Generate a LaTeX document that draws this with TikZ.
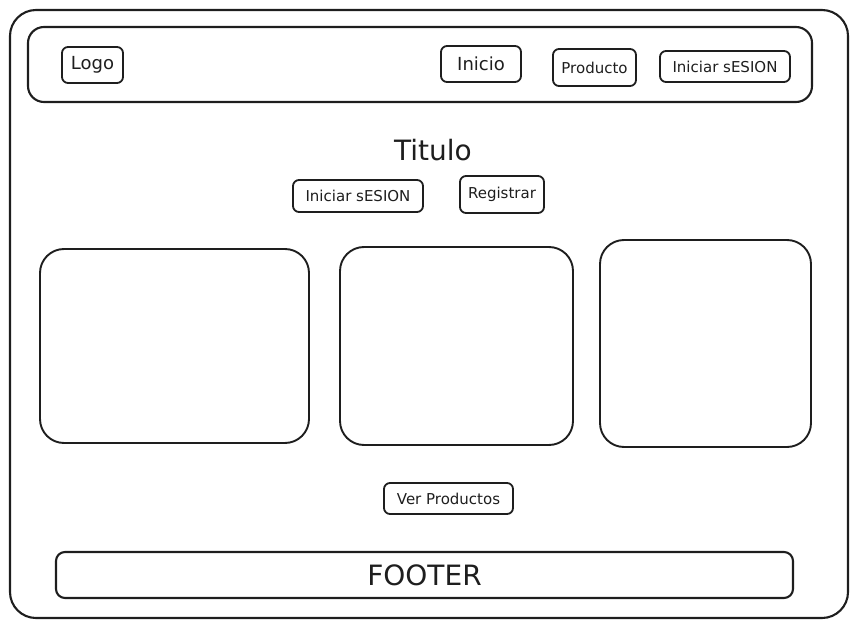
\documentclass[tikz,border=0pt]{standalone}
\usepackage{fontspec}
\setmainfont{DejaVu Sans}
\definecolor{ink}{HTML}{1E1E1E}
\tikzset{
  box/.style={draw=ink, text=ink, line width=1.8pt, rounded corners=6pt, inner sep=0pt},
  card/.style={box, rounded corners=24pt, line width=1.9pt},
  lbl/.style={text=ink, inner sep=0pt}
}
\begin{document}
\begin{tikzpicture}[x=1pt,y=-1pt]
\useasboundingbox (0,0) rectangle (858,628);
\node[box, rounded corners=26pt, line width=2.1pt, minimum width=838pt, minimum height=608pt] (frame) at (429,314) {};
\node[box, rounded corners=16pt, line width=2.1pt, minimum width=784pt, minimum height=75pt] (header) at (420,64.5) {};
\node[box, minimum width=61pt, minimum height=36pt, font=\fontsize{18}{20}\selectfont] (logo) at (92.5,65) {Logo};
\node[box, minimum width=80pt, minimum height=36pt, font=\fontsize{18}{20}\selectfont] (inicio) at (481,64) {Inicio};
\node[box, minimum width=83pt, minimum height=37pt, font=\fontsize{15}{17}\selectfont] (producto) at (594.5,67.5) {Producto};
\node[box, minimum width=130pt, minimum height=31pt, font=\fontsize{15}{17}\selectfont] (sesionTop) at (725,66.5) {Iniciar sESION};
\node[lbl, font=\fontsize{28}{30}\selectfont] (titulo) at (433,150) {Titulo};
\node[box, minimum width=130pt, minimum height=32pt, font=\fontsize{15}{17}\selectfont] (sesion) at (358,196) {Iniciar sESION};
\node[box, minimum width=84pt, minimum height=37pt, font=\fontsize{15}{17}\selectfont] (registrar) at (502,194.5) {Registrar};
\node[card, minimum width=269pt, minimum height=194pt] (card1) at (174.5,346) {};
\node[card, minimum width=233pt, minimum height=198pt] (card2) at (456.5,346) {};
\node[card, minimum width=211pt, minimum height=207pt] (card3) at (705.5,343.5) {};
\node[box, minimum width=129pt, minimum height=31pt, font=\fontsize{15}{17}\selectfont] (ver) at (448.5,498.5) {Ver Productos};
\node[box, rounded corners=9pt, line width=2.1pt, minimum width=737pt, minimum height=46pt, font=\fontsize{28}{30}\selectfont] (footer) at (424.5,575) {FOOTER};
\end{tikzpicture}
\end{document}
